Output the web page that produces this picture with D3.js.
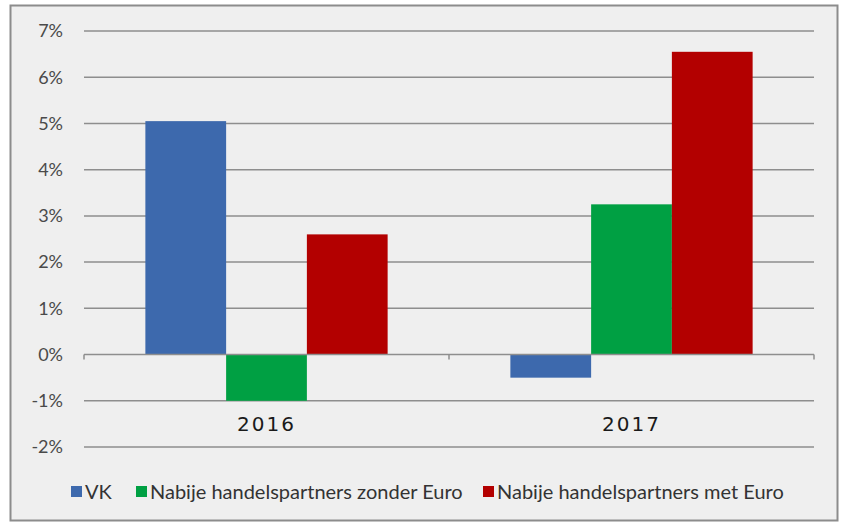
<!DOCTYPE html>
<html>
<head>
<meta charset="utf-8">
<script src="https://cdn.jsdelivr.net/npm/d3@7"></script>
<style>
  body { margin: 0; background: #ffffff; }
  svg { display: block; }
</style>
</head>
<body>
<div id="chart"></div>
<script>
// data (percent)
const years = ["2016", "2017"];
const seriesNames = ["VK", "Nabije handelspartners zonder Euro", "Nabije handelspartners met Euro"];
const seriesColors = ["#3d69ad", "#00a043", "#b30000"];
const vk = [5.05, -0.5];
const zonderEuro = [-1.0, 3.25];
const metEuro = [2.6, 6.55];
const yTicks = [-2, -1, 0, 1, 2, 3, 4, 5, 6, 7];

const seriesValues = [vk, zonderEuro, metEuro];

const width = 843, height = 523;
const margin = {top: 31, left: 84, right: 29, bottom: 76};

const svg = d3.select("#chart")
    .append("svg")
    .attr("width", width)
    .attr("height", height);

// outer frame
svg.append("rect")
    .attr("x", 10.5)
    .attr("y", 5.5)
    .attr("width", 827)
    .attr("height", 515)
    .attr("fill", "#efefef")
    .attr("stroke", "#8c8c8c")
    .attr("stroke-width", 2);

const xScale = d3.scaleBand()
    .domain(years)
    .range([margin.left, width - margin.right])
    .padding(0);

const innerScale = d3.scaleBand()
    .domain(seriesNames)
    .range([0, xScale.bandwidth()])
    .paddingInner(0)
    .paddingOuter(0.76);

const yScale = d3.scaleLinear()
    .domain([-2, 7])
    .range([height - margin.bottom, margin.top]);

// gridlines
svg.append("g")
    .selectAll("line")
    .data(yTicks.filter(d => d !== 0))
    .enter()
    .append("line")
        .attr("x1", margin.left)
        .attr("x2", width - margin.right)
        .attr("y1", d => yScale(d))
        .attr("y2", d => yScale(d))
        .attr("stroke", "#8e8e8e")
        .attr("stroke-width", 1.5);

// y tick labels
svg.append("g")
    .selectAll("text")
    .data(yTicks)
    .enter()
    .append("text")
        .attr("x", 63)
        .attr("y", d => yScale(d))
        .attr("dy", "0.35em")
        .attr("text-anchor", "end")
        .attr("font-family", "Lato, 'Open Sans', sans-serif")
        .attr("font-size", 18)
        .attr("fill", "#4a4a4a")
        .text(d => d + "%");

// bars
const groups = svg.append("g")
    .selectAll("g")
    .data(years)
    .enter()
    .append("g")
        .attr("transform", d => `translate(${xScale(d)},0)`);

groups.selectAll("rect")
    .data((year, i) => seriesNames.map((name, j) => ({name: name, value: seriesValues[j][i], color: seriesColors[j]})))
    .enter()
    .append("rect")
        .attr("x", d => innerScale(d.name))
        .attr("y", d => yScale(Math.max(0, d.value)))
        .attr("width", innerScale.bandwidth())
        .attr("height", d => Math.abs(yScale(d.value) - yScale(0)))
        .attr("fill", d => d.color);

// zero axis with ticks
const xAxis = svg.append("g")
    .attr("transform", `translate(0,${yScale(0)})`);

xAxis.append("line")
    .attr("x1", margin.left)
    .attr("x2", width - margin.right)
    .attr("stroke", "#8e8e8e")
    .attr("stroke-width", 1.5);

const tickXs = years.map(d => xScale(d)).concat([width - margin.right]);
xAxis.selectAll(".tick")
    .data(tickXs)
    .enter()
    .append("line")
        .attr("class", "tick")
        .attr("x1", d => d)
        .attr("x2", d => d)
        .attr("y1", 0)
        .attr("y2", 5)
        .attr("stroke", "#8e8e8e")
        .attr("stroke-width", 1.5);

// category labels
svg.append("g")
    .selectAll("text")
    .data(years)
    .enter()
    .append("text")
        .attr("x", d => xScale(d) + xScale.bandwidth() / 2)
        .attr("y", yScale(-1.5))
        .attr("dy", "0.35em")
        .attr("text-anchor", "middle")
        .attr("font-family", "'Comic Sans MS', 'DejaVu Sans', sans-serif")
        .attr("font-size", 20)
        .attr("letter-spacing", 2)
        .attr("fill", "#1a1a1a")
        .text(d => d);

// legend
const legendX = [71, 136, 483];
const legend = svg.append("g")
    .selectAll("g")
    .data(seriesNames)
    .enter()
    .append("g")
        .attr("transform", (d, i) => `translate(${legendX[i]},491)`);

legend.append("rect")
    .attr("x", 0)
    .attr("y", -5)
    .attr("width", 11)
    .attr("height", 11)
    .attr("fill", (d, i) => seriesColors[i]);

legend.append("text")
    .attr("x", 14)
    .attr("y", 1)
    .attr("dy", "0.35em")
    .attr("font-family", "Lato, 'Open Sans', sans-serif")
    .attr("font-size", 20)
    .attr("fill", "#333")
    .text(d => d);
</script>
</body>
</html>
